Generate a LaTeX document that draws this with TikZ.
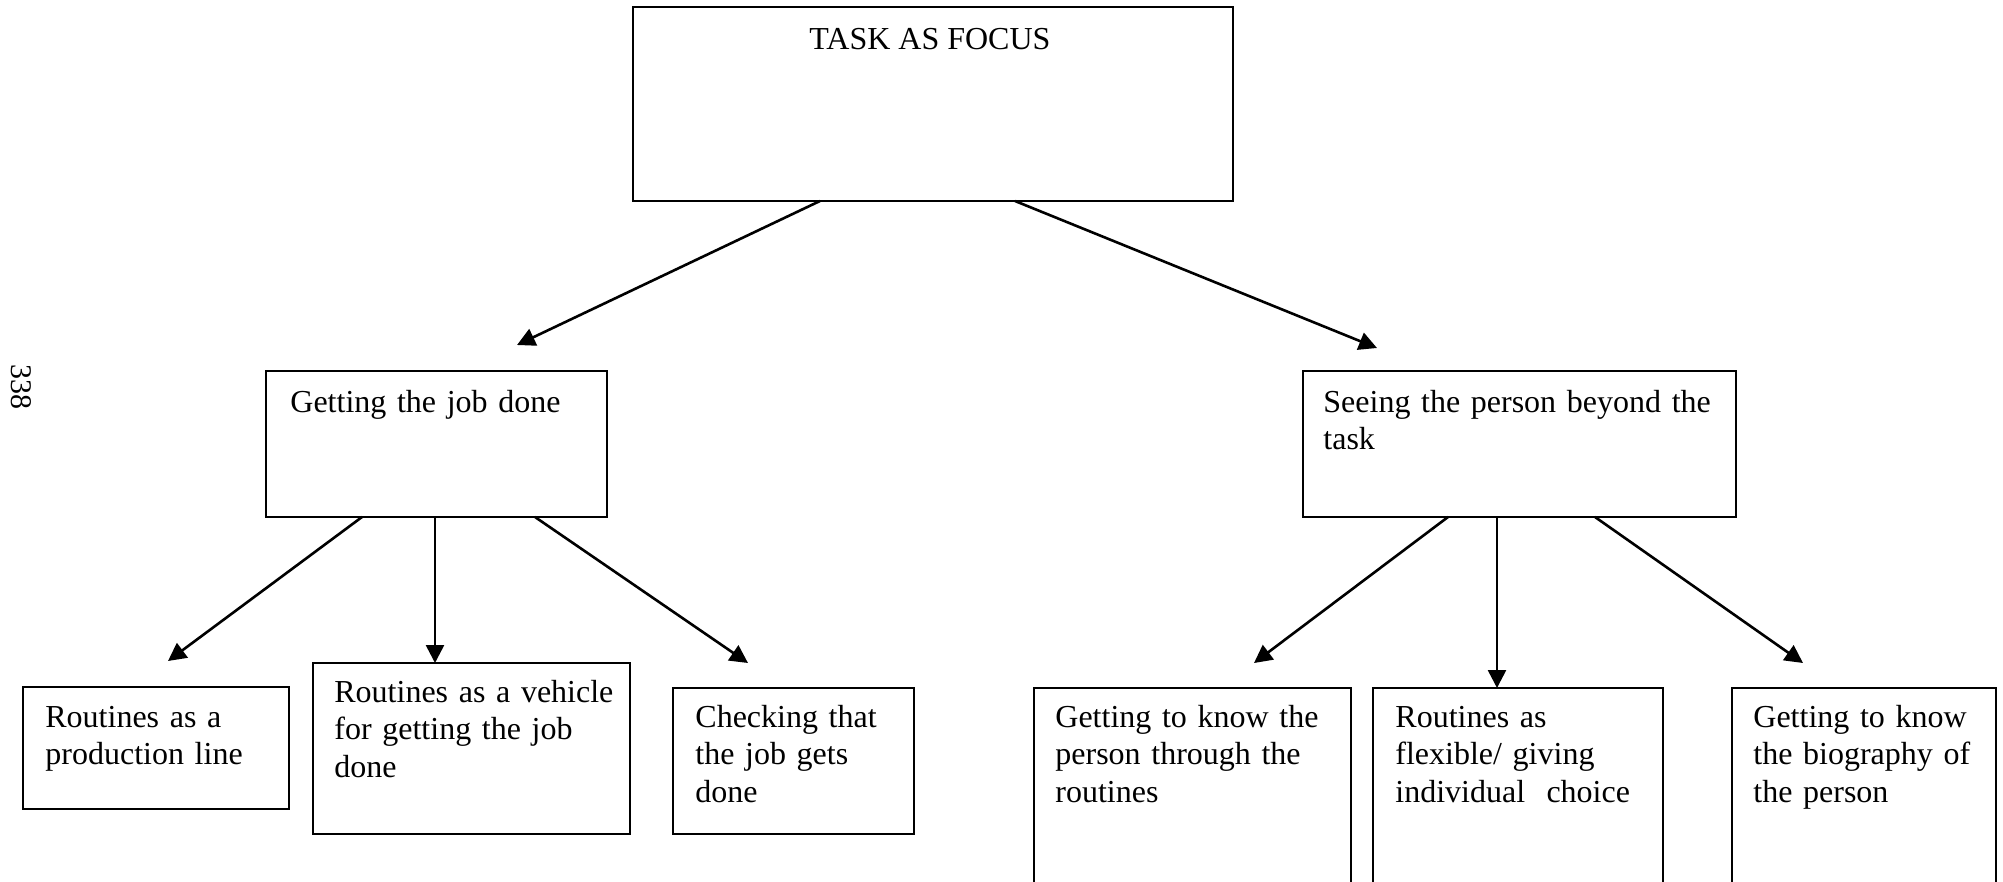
\documentclass[tikz,border=0pt]{standalone}
\usepackage{fontspec}
\setmainfont{Liberation Serif}
\usetikzlibrary{arrows.meta,fit}
\begin{document}
\begin{tikzpicture}[x=0.5pt,y=-0.5pt,
  box/.style={draw=black, line width=1.3pt, inner sep=0pt},
  txt/.style={inner sep=0pt, anchor=base west, align=left, text width=300pt, font=\fontsize{16}{18.75}\selectfont},
  arr/.style={draw=black, line width=1.3pt, -{Triangle[length=9pt,width=9pt]}}]
\useasboundingbox (0,0) rectangle (2003,882);
\clip (0,0) rectangle (2003,882);

% page number
\node[font=\fontsize{15}{18}\selectfont, rotate=-90, inner sep=0pt] (pg) at (21,387) {338};

% top box
\node[box, fit={(633,7) (1233,201)}] (top) {};
\node[inner sep=0pt, anchor=base, font=\fontsize{16}{18.75}\selectfont] (toptxt) at (930,50) {TASK AS FOCUS};

% middle boxes
\node[box, fit={(266,371) (607,517)}] (job) {};
\node[txt] (jobtxt) at (290,412) {Getting the job done};
\node[box, fit={(1303,371) (1736,517)}] (see) {};
\node[txt] (seetxt) at (1323,412) {Seeing the person beyond the\\task};

% bottom boxes
\node[box, fit={(23,687) (289,809)}] (b1) {};
\node[txt] (b1t) at (45,727) {Routines as a\\production line};
\node[box, fit={(313,663) (630,834)}] (b2) {};
\node[txt] (b2t) at (334,702) {Routines as a vehicle\\for getting the job\\done};
\node[box, fit={(673,688) (914,834)}] (b3) {};
\node[txt] (b3t) at (695,727) {Checking that\\the job gets\\done};
\node[box, fit={(1034,688) (1351,900)}] (b4) {};
\node[txt] (b4t) at (1055,727) {Getting to know the\\person through the\\routines};
\node[box, fit={(1373,688) (1663,900)}] (b5) {};
\node[txt] (b5t) at (1395,727) {Routines as\\flexible/ giving\\individual\ \ choice};
\node[box, fit={(1732,688) (1996,900)}] (b6) {};
\node[txt] (b6t) at (1753,727) {Getting to know\\the biography of\\the person};

% connector end points
\coordinate (topL) at (820,201);
\coordinate (topR) at (1015,201);
\coordinate (jobIn) at (517,345);
\coordinate (seeIn) at (1377,348);
\coordinate (jobL) at (362,517);
\coordinate (jobM) at (435,517);
\coordinate (jobR) at (535,517);
\coordinate (b1In) at (168,661);
\coordinate (b2In) at (435,663);
\coordinate (b3In) at (748,663);
\coordinate (seeL) at (1448,517);
\coordinate (seeM) at (1497,517);
\coordinate (seeR) at (1595,517);
\coordinate (b4In) at (1254,663);
\coordinate (b5In) at (1497,688);
\coordinate (b6In) at (1803,663);

\draw[arr] (topL) -- (jobIn);
\draw[arr] (topR) -- (seeIn);
\draw[arr] (jobL) -- (b1In);
\draw[arr] (jobM) -- (b2In);
\draw[arr] (jobR) -- (b3In);
\draw[arr] (seeL) -- (b4In);
\draw[arr] (seeM) -- (b5In);
\draw[arr] (seeR) -- (b6In);
\end{tikzpicture}
\end{document}
